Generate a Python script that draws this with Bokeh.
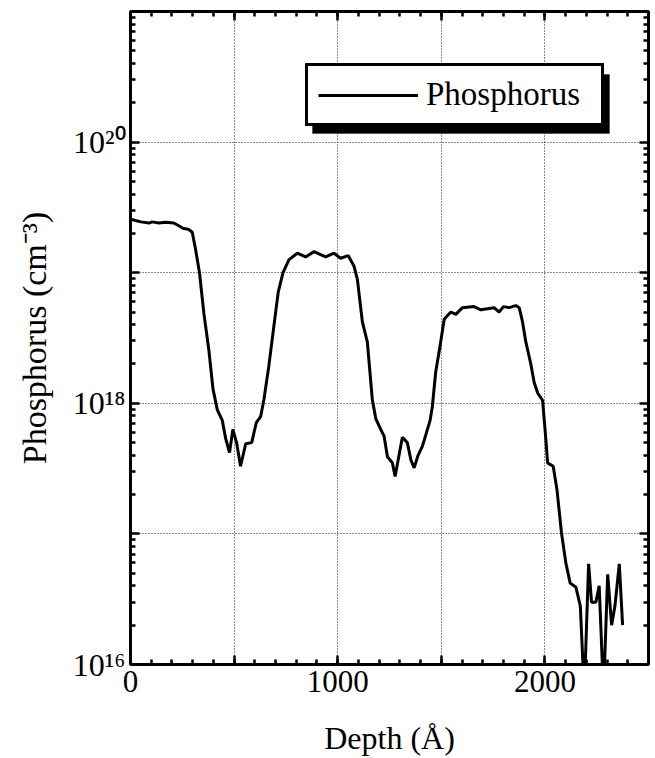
from bokeh.plotting import figure
from bokeh.models import (Range1d, LogAxis, LinearAxis, FixedTicker, SingleIntervalTicker,
                          Legend, LegendItem, BoxAnnotation, CustomJSTickFormatter)
from bokeh.embed import file_html
from bokeh.resources import INLINE

# ---- data (depth in Angstrom, phosphorus in cm^-3) ----
depth = [0, 24, 50, 89, 105, 137, 169, 209, 233, 253, 282, 298, 314, 333, 354, 378, 398,
         419, 443, 459, 478, 494, 512, 531, 556, 585, 607, 628, 644, 668, 692, 713, 736,
         765, 805, 845, 886, 915, 942, 982, 1014, 1051, 1079, 1095, 1119, 1143, 1167,
         1184, 1208, 1224, 1240, 1264, 1277, 1296, 1312, 1336, 1353, 1369, 1388, 1409,
         1446, 1457, 1473, 1494, 1514, 1546, 1570, 1602, 1658, 1691, 1755, 1779, 1800,
         1827, 1860, 1876, 1892, 1908, 1932, 1948, 1965, 1989, 2005, 2013, 2040, 2058,
         2080, 2101, 2122, 2150, 2171, 2190, 2211, 2225, 2246, 2262, 2283, 2303, 2322,
         2338, 2359, 2375]
phosphorus = [2.57e19, 2.51e19, 2.45e19, 2.40e19, 2.45e19, 2.40e19, 2.43e19, 2.40e19,
              2.29e19, 2.19e19, 2.14e19, 2.04e19, 1.51e19, 1.0e19, 4.9e18, 2.57e18, 1.29e18,
              8.9e17, 7.4e17, 5.4e17, 4.2e17, 6.3e17, 5.0e17, 3.3e17, 4.9e17, 5.0e17,
              7.1e17, 7.9e17, 1.07e18, 1.95e18, 3.9e18, 7.1e18, 1.0e19,
              1.26e19, 1.41e19, 1.32e19, 1.45e19, 1.38e19, 1.32e19, 1.41e19, 1.29e19,
              1.35e19, 1.12e19, 8.9e18, 4.2e18, 2.95e18, 1.07e18,
              7.6e17, 6.3e17, 5.6e17, 3.9e17, 3.5e17, 2.75e17, 4.0e17, 5.5e17, 5.0e17,
              3.7e17, 3.2e17, 4.0e17, 4.7e17,
              7.4e17, 9.5e17, 1.74e18, 2.75e18, 4.4e18, 5.0e18, 4.8e18, 5.4e18, 5.5e18,
              5.2e18, 5.4e18, 5.0e18, 5.5e18,
              5.4e18, 5.6e18, 5.4e18, 4.2e18, 2.95e18, 2.0e18, 1.45e18, 1.2e18, 1.05e18,
              5.2e17, 3.5e17, 3.3e17, 2.2e17,
              1.02e17, 6.0e16, 4.2e16, 3.9e16, 2.8e16, 6.0e15, 5.9e16, 3.0e16, 3.0e16,
              4.0e16, 6.0e15, 4.9e16, 2.0e16,
              2.8e16, 5.9e16, 2.0e16]

decades = [1e16, 1e17, 1e18, 1e19, 1e20, 1e21]
minor_steps = [2, 3, 4, 5, 6, 7, 8, 9]
y_tick_labels = {1e16: "10¹⁶", 1e17: "", 1e18: "10¹⁸", 1e19: "", 1e20: "10²⁰", 1e21: ""}
blank_x_ticks = {500: "", 1500: "", 2500: ""}
x_title = "Depth (Å)"
y_title = "Phosphorus (cm⁻³)"
series_name = "Phosphorus"

SERIF = "Liberation Serif"

p = figure(width=655, height=758, x_range=Range1d(0, 2500), y_range=Range1d(1e16, 1e21),
           y_axis_type="log", output_backend="svg", toolbar_location=None,
           min_border_left=130, min_border_right=7, min_border_top=11, min_border_bottom=94,
           background_fill_color="white", border_fill_color="white")
p.outline_line_color = "black"
p.outline_line_width = 3

y_ticker = FixedTicker(ticks=decades,
                       minor_ticks=[m * d for d in decades[:-1] for m in minor_steps])
empty = CustomJSTickFormatter(code="return ''")

def style_axis(ax):
    ax.axis_line_width = 3
    ax.axis_line_color = "black"
    ax.major_tick_in = 9
    ax.major_tick_out = 0
    ax.minor_tick_in = 5
    ax.minor_tick_out = 0
    ax.major_tick_line_width = 2.5
    ax.minor_tick_line_width = 2.5
    ax.major_tick_line_color = "black"
    ax.minor_tick_line_color = "black"

# bottom axis
xa = p.xaxis[0]
xa.ticker = SingleIntervalTicker(interval=500, num_minor_ticks=5)
xa.major_label_overrides = blank_x_ticks
style_axis(xa)
xa.major_label_text_font = SERIF
xa.major_label_text_font_size = "31px"
xa.major_label_text_color = "black"
xa.major_label_standoff = 6
xa.axis_label = x_title
xa.axis_label_text_font = SERIF
xa.axis_label_text_font_size = "32px"
xa.axis_label_text_font_style = "normal"
xa.axis_label_text_color = "black"
xa.axis_label_standoff = 25

# left axis
ya = p.yaxis[0]
ya.ticker = y_ticker
ya.major_label_overrides = y_tick_labels
style_axis(ya)
ya.major_label_text_font = SERIF
ya.major_label_text_font_size = "32px"
ya.major_label_text_color = "black"
ya.major_label_standoff = 5
ya.axis_label = y_title
ya.axis_label_text_font = SERIF
ya.axis_label_text_font_size = "34px"
ya.axis_label_text_font_style = "normal"
ya.axis_label_text_color = "black"
ya.axis_label_standoff = 17

# top and right axes (ticks only)
top = LinearAxis(ticker=SingleIntervalTicker(interval=500, num_minor_ticks=5), formatter=empty)
style_axis(top)
top.major_label_text_font_size = "1px"
top.major_label_standoff = 0
p.add_layout(top, "above")
right = LogAxis(ticker=y_ticker, formatter=empty)
style_axis(right)
right.major_label_text_font_size = "1px"
right.major_label_standoff = 0
p.add_layout(right, "right")

# dotted grid
for g in (p.xgrid[0], p.ygrid[0]):
    g.grid_line_color = "black"
    g.grid_line_dash = "1 2"
    g.grid_line_width = 1
    g.grid_line_alpha = 0.9
p.ygrid[0].ticker = y_ticker

# data line
r = p.line(depth, phosphorus, line_color="black", line_width=3)

# legend with drop shadow
shadow = BoxAnnotation(left=312, right=609, top=74, bottom=133,
                       left_units="canvas", right_units="canvas",
                       top_units="canvas", bottom_units="canvas",
                       fill_color="black", fill_alpha=1, line_color="black")
p.add_layout(shadow)
legend = Legend(items=[LegendItem(label=series_name, renderers=[r])],
                location=(175, 538), orientation="vertical",
                label_text_font=SERIF, label_text_font_size="33px", label_text_color="black",
                glyph_width=100, glyph_height=30, label_standoff=8, label_width=165,
                padding=10, margin=0, spacing=0,
                border_line_color="black", border_line_width=3, border_line_alpha=1,
                background_fill_color="white", background_fill_alpha=1)
p.add_layout(legend)

open("out.html", "w").write(file_html(p, INLINE))
